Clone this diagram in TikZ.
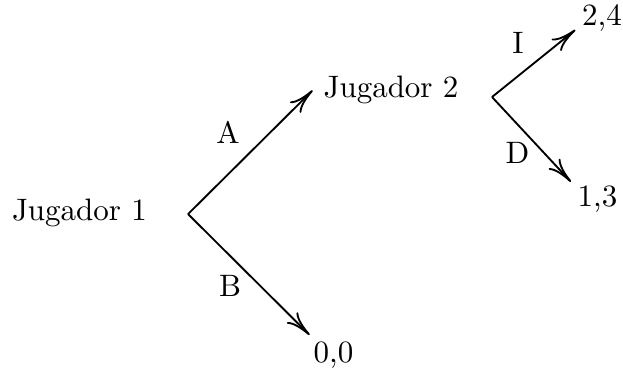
\documentclass[tikz,border=0pt]{standalone}
\usepackage{tikz}
\usetikzlibrary{arrows,arrows.meta,positioning,calc}

\begin{document}
\begin{tikzpicture}[>={To[length=8pt,width=5pt]},
    rama/.style={->,semithick},
    hoja/.style={inner sep=2pt}]
            \useasboundingbox (0,0) rectangle (7.063,4.184);

            % Jugadores
            \node (J1) at (0.901,1.765) {Jugador 1};
            \node (J2) at (4.433,3.160) {Jugador 2};
            \coordinate (v1) at (2.132,1.757);
            \coordinate (v2) at (5.578,3.084);

            % Pagos
            \node[hoja] (p00) at (3.781,0.159) {0,0};
            \node[hoja] (p24) at (6.825,3.980) {2,4};
            \node[hoja] (p13) at (6.774,1.927) {1,3};

            % Ramas
            \draw[rama] (v1) -- (J2.west);
            \draw[rama] (v1) -- (p00.140);
            \draw[rama] (v2) -- (p24.204);
            \draw[rama] (v2) -- (p13.147);

            % Acciones
            \node (eA) at (2.585,2.683) {A};
            \node (eB) at (2.608,0.937) {B};
            \node (eI) at (5.873,3.692) {I};
            \node (eD) at (5.867,2.456) {D};
        \end{tikzpicture}
\end{document}
